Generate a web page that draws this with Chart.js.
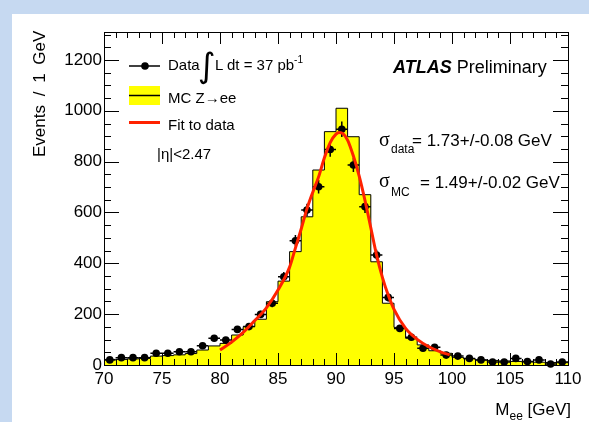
<!DOCTYPE html>
<html><head><meta charset="utf-8">
<script src="https://cdn.jsdelivr.net/npm/chart.js@4/dist/chart.umd.min.js"></script>
<style>
html,body{margin:0;padding:0;}
body{width:589px;height:422px;background:#c6d9f1;position:relative;overflow:hidden;font-family:"Liberation Sans",Arial,sans-serif;}
#panel{position:absolute;left:12px;top:14px;width:577px;height:408px;background:#fff;}
#c{position:absolute;left:0;top:0;}
.t{position:absolute;white-space:nowrap;color:#000;line-height:1;}
.sig{font-family:"Liberation Serif","Times New Roman",serif;}
</style></head>
<body>
<div id="panel"></div>
<canvas id="c" width="589" height="422"></canvas>

<div class="t" style="left:168px;top:57px;font-size:15px;">Data</div>
<div class="t" style="left:198px;top:48px;font-size:34px;font-family:'DejaVu Sans',sans-serif;">&#8747;</div>
<div class="t" style="left:215px;top:57px;font-size:15px;">L dt = 37 pb<span style="font-size:10px;position:relative;top:-7px;">-1</span></div>
<div class="t" style="left:168px;top:90px;font-size:15px;">MC Z&#8594;ee</div>
<div class="t" style="left:168px;top:117px;font-size:15px;">Fit to data</div>
<div class="t" style="left:157px;top:146px;font-size:15px;">|&#951;|&lt;2.47</div>

<div class="t" style="left:393px;top:58px;font-size:18px;"><b><i>ATLAS</i></b> Preliminary</div>

<div class="t sig" style="left:379px;top:129px;font-size:20px;">&#963;</div>
<div class="t" style="left:391px;top:143px;font-size:12px;">data</div>
<div class="t" style="left:412px;top:132px;font-size:17px;">= 1.73+/-0.08 GeV</div>

<div class="t sig" style="left:379px;top:170px;font-size:20px;">&#963;</div>
<div class="t" style="left:391px;top:186px;font-size:12px;">MC</div>
<div class="t" style="left:420px;top:174px;font-size:17px;">= 1.49+/-0.02 GeV</div>

<div class="t" style="left:31px;top:157px;font-size:17px;transform-origin:left top;transform:rotate(-90deg);word-spacing:4px;">Events / 1 GeV</div>
<div class="t" style="right:18px;top:401px;font-size:17px;">M<span style="font-size:12px;position:relative;top:5px;">ee</span> [GeV]</div>

<script>
// ---- data ----
const massBinCenters = [70.5,71.5,72.5,73.5,74.5,75.5,76.5,77.5,78.5,79.5,
  80.5,81.5,82.5,83.5,84.5,85.5,86.5,87.5,88.5,89.5,
  90.5,91.5,92.5,93.5,94.5,95.5,96.5,97.5,98.5,99.5,
  100.5,101.5,102.5,103.5,104.5,105.5,106.5,107.5,108.5,109.5];
const dataEvents = [20,29,29,29,46,46,52,52,76,105,
  98,140,151,199,243,347,489,610,701,848,
  927,787,623,433,266,144,109,66,70,39,
  35,26,20,12,12,26,14,20,4,12];
const mcBinEdges = [70,71,72,73,74,75,76,77,78,79,80,81,82,83,84,85,86,87,88,89,90,
  91,92,93,94,95,96,97,98,99,100,101,102,103,104,105,106,107,108,109,110];
const mcEvents = [22,22,24,26,35,37,40,45,59,75,
  85,118,151,180,249,330,446,583,767,918,
  1010,898,670,406,243,148,105,79,56,46,
  30,25,20,18,16,14,12,11,10,9];
const fitMass = [80,81,82,83,84,85,86,86.5,87,87.5,88,88.5,89,89.5,90,90.3,90.6,91,91.5,92,92.5,93,93.5,94,94.5,95,96,97,98,99,99.8];
const fitEvents = [59,90,128,175,225,295,385,460,535,615,680,740,815,875,908,915,910,885,822,743,647,540,432,345,275,219,144,101,72,52,40];
const xTickValues = [70,75,80,85,90,95,100,105,110];
const yTickValues = [0,200,400,600,800,1000,1200];
const xMin = 70, xMax = 110, yMin = 0, yMax = 1310;

// tables built from the arrays
const mcPoints = mcEvents.map((v,i)=>({x:mcBinEdges[i], y:v}));
mcPoints.push({x:mcBinEdges[mcBinEdges.length-1], y:mcEvents[mcEvents.length-1]});
const dataPoints = massBinCenters.map((m,i)=>({x:m, y:dataEvents[i]}));
const fitPoints = fitMass.map((m,i)=>({x:m, y:fitEvents[i]}));

const errorBars = {
  id:'errorBars',
  beforeDatasetDraw(chart, args){
    if (chart.data.datasets[args.index].label !== 'Data') return;
    const {ctx, scales:{x,y}} = chart;
    ctx.save(); ctx.strokeStyle='#000'; ctx.lineWidth=1.5;
    massBinCenters.forEach((m,i)=>{
      const n = dataEvents[i], e = Math.sqrt(n);
      const hw = (mcBinEdges[i+1]-mcBinEdges[i])/2;
      const px = x.getPixelForValue(m), py = y.getPixelForValue(n);
      ctx.beginPath();
      ctx.moveTo(x.getPixelForValue(m-hw), py); ctx.lineTo(x.getPixelForValue(m+hw), py);
      ctx.moveTo(px, y.getPixelForValue(n+e)); ctx.lineTo(px, y.getPixelForValue(Math.max(0,n-e)));
      ctx.stroke();
    });
    ctx.restore();
  }
};

const frameTicks = {
  id:'frameTicks',
  afterDatasetsDraw(chart){
    const {ctx, chartArea:a, scales:{x,y}} = chart;
    ctx.save(); ctx.strokeStyle='#000'; ctx.lineWidth=1;
    ctx.strokeRect(Math.round(a.left)+0.5, Math.round(a.top)+0.5, Math.round(a.right-a.left), Math.round(a.bottom-a.top));
    ctx.beginPath();
    for (let v=xMin; v<=xMax; v+=1){
      const major = xTickValues.includes(v);
      const L = major?12:6, px = Math.round(x.getPixelForValue(v))+0.5;
      ctx.moveTo(px, a.bottom); ctx.lineTo(px, a.bottom-L);
      ctx.moveTo(px, a.top); ctx.lineTo(px, a.top+L);
    }
    for (let v=yMin; v<=yMax; v+=50){
      const major = yTickValues.includes(v);
      const L = major?15:7, py = Math.round(y.getPixelForValue(v))+0.5;
      ctx.moveTo(a.left, py); ctx.lineTo(a.left+L, py);
      ctx.moveTo(a.right, py); ctx.lineTo(a.right-L, py);
    }
    ctx.stroke();
    ctx.restore();
  }
};

const legendMarks = {
  id:'legendMarks',
  afterDraw(chart){
    const ctx = chart.ctx;
    ctx.save();
    ctx.strokeStyle='#000'; ctx.lineWidth=1.5;
    ctx.beginPath(); ctx.moveTo(129,66); ctx.lineTo(160,66); ctx.stroke();
    ctx.fillStyle='#000'; ctx.beginPath(); ctx.arc(145,66,3.8,0,Math.PI*2); ctx.fill();
    ctx.fillStyle='#ffff00'; ctx.fillRect(129,86,31,19);
    ctx.beginPath(); ctx.moveTo(129,95.5); ctx.lineTo(160,95.5); ctx.stroke();
    ctx.strokeStyle='#ff2200'; ctx.lineWidth=3;
    ctx.beginPath(); ctx.moveTo(129,122.5); ctx.lineTo(160,122.5); ctx.stroke();
    ctx.restore();
  }
};

new Chart(document.getElementById('c'), {
  type:'line',
  data:{ datasets:[
    { label:'Fit', data:fitPoints, borderColor:'#ff2200', borderWidth:3, pointRadius:0,
      cubicInterpolationMode:'monotone', fill:false, order:0 },
    { label:'Data', data:dataPoints, showLine:false, pointRadius:3.8, pointBackgroundColor:'#000',
      pointBorderWidth:0, borderColor:'#000', clip:false, order:1 },
    { label:'MC', data:mcPoints, stepped:'before', borderColor:'#000', borderWidth:1,
      backgroundColor:'#ffff00', fill:'origin', pointRadius:0, order:2 }
  ]},
  options:{
    responsive:false, animation:false,
    layout:{ padding:{ left:0, right:21, top:32, bottom:0 } },
    plugins:{ legend:{display:false}, tooltip:{enabled:false} },
    scales:{
      x:{ type:'linear', min:xMin, max:xMax,
        afterBuildTicks(s){ s.ticks = xTickValues.map(v=>({value:v})); },
        afterFit(s){ s.height = 57; s.paddingLeft = 0; s.paddingRight = 0; },
        ticks:{ font:{family:'Liberation Sans', size:17}, color:'#000', padding:4, maxRotation:0, autoSkip:false,
          callback:(v)=>String(v) },
        grid:{ display:false, drawTicks:false }, border:{display:false} },
      y:{ type:'linear', min:yMin, max:yMax,
        afterBuildTicks(s){ s.ticks = yTickValues.map(v=>({value:v})); },
        afterFit(s){ s.width = 104; s.paddingTop = 0; s.paddingBottom = 0; },
        ticks:{ font:{family:'Liberation Sans', size:17}, color:'#000', padding:2,
          callback:(v)=>String(v) },
        grid:{ display:false, drawTicks:false }, border:{display:false} }
    }
  },
  plugins:[errorBars, frameTicks, legendMarks]
});
</script>
</body></html>
